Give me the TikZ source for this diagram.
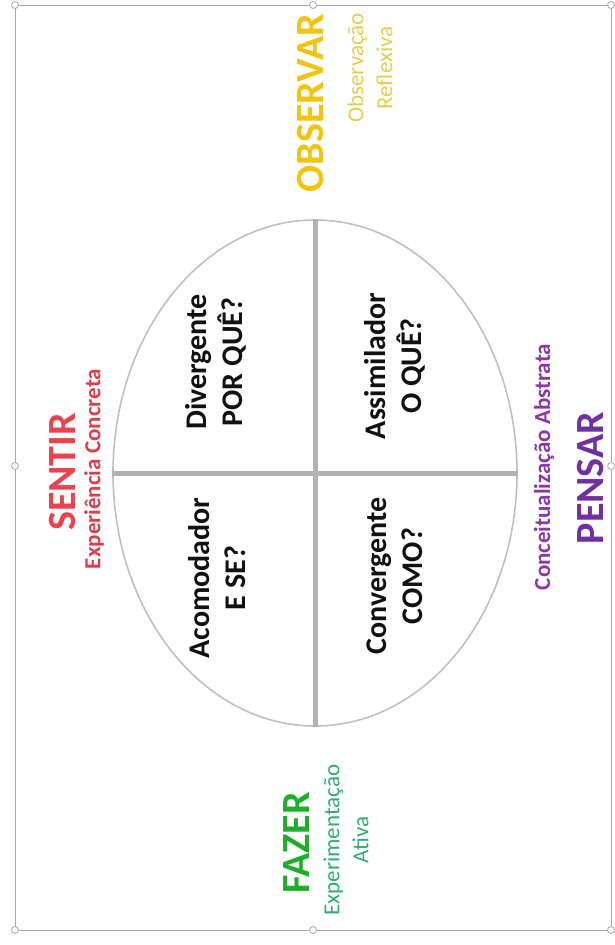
\documentclass[tikz,border=0pt]{standalone}
\usepackage{fontspec}
\setmainfont{Carlito}
\usepackage{tikz}
\usetikzlibrary{shapes.geometric}
\definecolor{ink}{HTML}{111111}
\definecolor{framegray}{HTML}{A8A8A8}
\definecolor{ringgray}{HTML}{C0C0C0}
\definecolor{bargray}{HTML}{B2B2B2}
\definecolor{gold}{HTML}{F2C30F}
\definecolor{goldpale}{HTML}{E6CC50}
\definecolor{coral}{HTML}{E8434F}
\definecolor{coralsub}{HTML}{DA3F4B}
\definecolor{violet}{HTML}{7030A0}
\definecolor{violetsub}{HTML}{8C36A8}
\definecolor{leaf}{HTML}{1FAE2A}
\definecolor{leafsub}{HTML}{2FAD72}
\tikzset{
  handle/.style={circle,minimum size=7pt,inner sep=0pt,draw=framegray,fill=white,line width=.8pt},
  ring/.style={ellipse,draw=ringgray,line width=1.6pt,minimum width=404pt,minimum height=506pt,inner sep=0pt},
  bar/.style={draw=bargray,line width=5pt},
  quad/.style={rotate=90,align=center,inner sep=0pt,text=ink,font=\bfseries\fontsize{30}{36}\selectfont},
  mode/.style={rotate=90,inner sep=0pt,font=\bfseries\fontsize{40}{44}\selectfont},
  modesub/.style={rotate=90,align=center,inner sep=0pt,font=\fontsize{23}{29}\selectfont},
}

\begin{document}
\begin{tikzpicture}[x=1pt,y=1pt]
  \useasboundingbox (0,0) rectangle (614,-945);
  % frame with its handles
  \draw[framegray,line width=.9pt] (15,-5) rectangle (611,-930);
  \foreach \hx/\hy [count=\k] in {15/5,313/5,611/5,15/466,611/466,15/930,313/930,611/930}
    \node[handle] (h\k) at (\hx,-\hy) {};

  % the oval and its four quarters
  \node[ring] (oval) at (315,-473) {};
  \draw[bar] (oval.north) -- (oval.south);
  \draw[bar] (oval.west) -- (oval.east);
  \node[quad] (div) at (216,-362) {Divergente\\POR QUÊ?};
  \node[quad] (ass) at (395,-366) {Assimilador\\O QUÊ?};
  \node[quad] (aco) at (217,-578) {Acomodador\\E SE?};
  \node[quad] (con) at (395,-576) {Convergente\\COMO?};

  % the four modes round it
  \node[mode,text=gold] (obs) at (311,-103) {OBSERVAR};
  \node[modesub,text=goldpale] (obssub) at (370,-68) {Observação\\Reflexiva};
  \node[mode,text=coral] (sen) at (63,-472) {SENTIR};
  \node[modesub,text=coralsub,font=\bfseries\fontsize{23}{29}\selectfont] (sensub) at (94,-469) {Experiência Concreta};
  \node[mode,text=violet] (pen) at (591,-478) {PENSAR};
  \node[modesub,text=violetsub,font=\bfseries\fontsize{23}{29}\selectfont] (pensub) at (544,-467) {Conceitualização Abstrata};
  \node[mode,text=leaf] (faz) at (297,-843) {FAZER};
  \node[modesub,text=leafsub] (fazsub) at (346,-840) {Experimentação\\Ativa};
\end{tikzpicture}
\end{document}
